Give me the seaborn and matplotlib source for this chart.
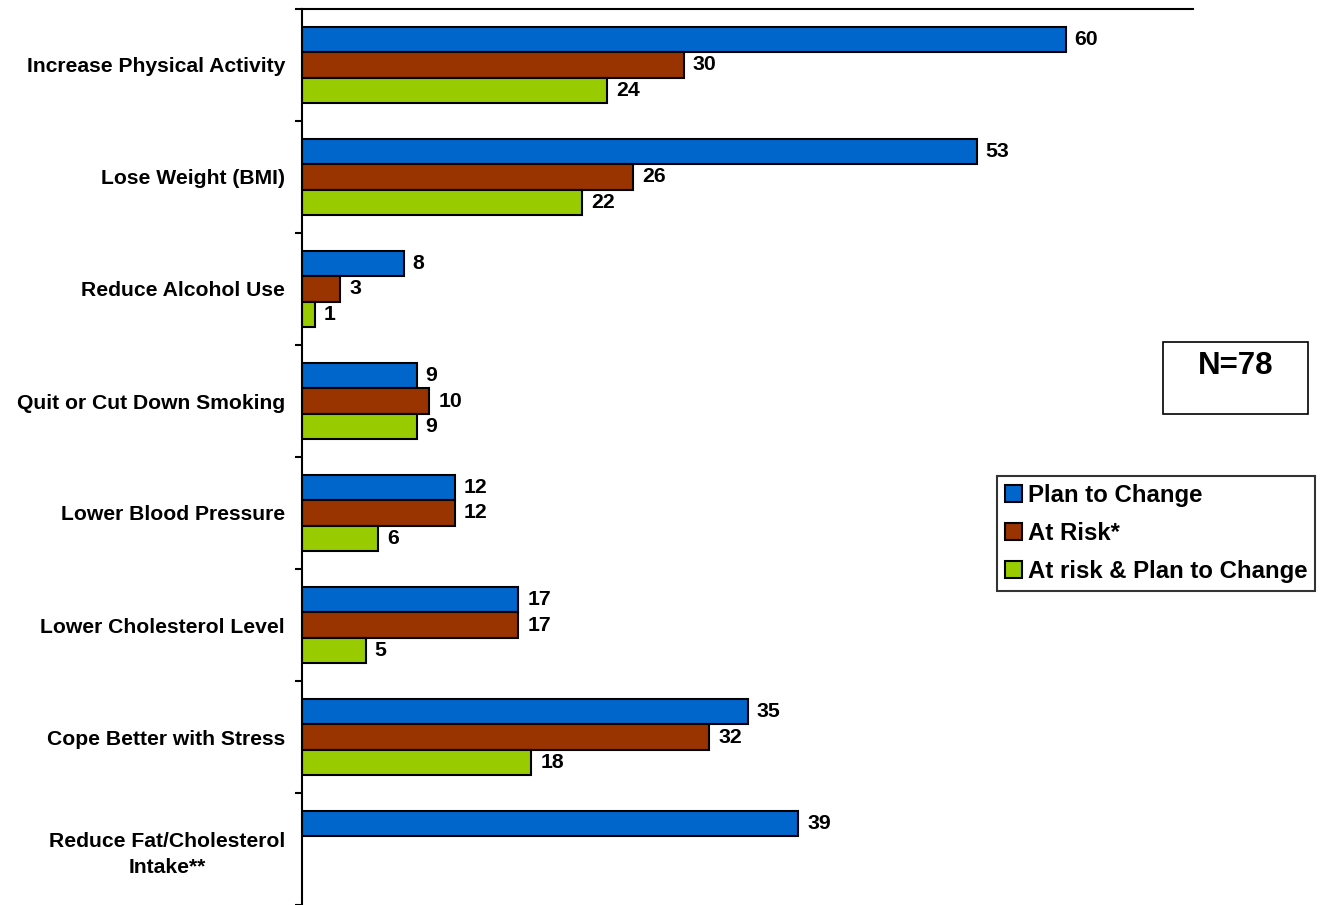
import pandas as pd
import matplotlib.pyplot as plt
import seaborn as sns
from matplotlib.patches import Rectangle
from matplotlib.ticker import FixedLocator

categories = ['Increase Physical Activity', 'Lose Weight (BMI)', 'Reduce Alcohol Use',
              'Quit or Cut Down Smoking', 'Lower Blood Pressure', 'Lower Cholesterol Level',
              'Cope Better with Stress', 'Reduce Fat/Cholesterol\nIntake**']
series = ['Plan to Change', 'At Risk*', 'At risk & Plan to Change']
plan_to_change = [60, 53, 8, 9, 12, 17, 35, 39]
at_risk = [30, 26, 3, 10, 12, 17, 32, None]
at_risk_and_plan = [24, 22, 1, 9, 6, 5, 18, None]
colors = ['#0066CC', '#993300', '#99CC00']

rows = []
for s, vals in zip(series, [plan_to_change, at_risk, at_risk_and_plan]):
    for c, v in zip(categories, vals):
        if v is not None:
            rows.append({'category': c, 'series': s, 'value': v})
df = pd.DataFrame(rows)

sns.set_style('white')
plt.rcParams['font.family'] = ['Liberation Sans', 'DejaVu Sans']
plt.rcParams['font.weight'] = 'bold'
plt.rcParams['text.color'] = 'black'
plt.rcParams['ytick.color'] = 'black'
plt.rcParams['ytick.labelcolor'] = 'black'

fig = plt.figure(figsize=(13.2, 9.05), dpi=100)
ax = fig.add_axes([302 / 1320, 0.0, (1193 - 302) / 1320, 1 - 9 / 905])

sns.barplot(data=df, y='category', x='value', hue='series', order=categories,
            hue_order=series, palette=colors, orient='h', width=0.67,
            edgecolor='black', linewidth=1.5, saturation=1, legend=False, ax=ax)

for cont in ax.containers:
    ax.bar_label(cont, fmt='%g', padding=6.5, fontsize=15.3, fontweight='bold', color='black')

ax.set_xlim(0, 70)
ax.set_ylim(len(categories) - 0.5, -0.5)
ax.set_xlabel('')
ax.set_ylabel('')
ax.set_xticks([])
ax.set_yticks(range(len(categories)))
ax.set_yticklabels(categories, fontweight='bold', multialignment='center', linespacing=1.45)
ax.tick_params(axis='y', which='major', left=False, length=0, pad=12.2, labelsize=15.2,
               labelcolor='black')
ax.yaxis.set_minor_locator(FixedLocator([i - 0.5 for i in range(len(categories) + 1)]))
ax.tick_params(axis='y', which='minor', left=True, length=5, width=1.5, direction='out',
               color='black')

for side in ['right', 'bottom']:
    ax.spines[side].set_visible(False)
for side in ['left', 'top']:
    ax.spines[side].set_color('black')
    ax.spines[side].set_linewidth(1.5)

handles = [Rectangle((0, 0), 1, 1, facecolor=c, edgecolor='black', linewidth=1.5) for c in colors]
leg = fig.legend(handles, series, loc='upper left', bbox_to_anchor=(997 / 1320, 1 - 476 / 905),
                 fontsize=17.3, frameon=True, fancybox=False, handlelength=0.7, handleheight=0.7,
                 handletextpad=0.25, labelspacing=0.62, borderpad=0.33, borderaxespad=0,
                 labelcolor='black')
leg.get_frame().set_edgecolor('black')
leg.get_frame().set_linewidth(1.5)
for t in leg.get_texts():
    t.set_fontweight('bold')

fig.patches.append(Rectangle((1163 / 1320, 1 - 414 / 905), 145 / 1320, 72 / 905,
                             transform=fig.transFigure, facecolor='white',
                             edgecolor='black', linewidth=1.2))
fig.text(1236 / 1320, 1 - 366 / 905, 'N=78', ha='center', va='center',
         fontsize=22.5, fontweight='bold', color='black')

fig.savefig('out.png', dpi=100)
